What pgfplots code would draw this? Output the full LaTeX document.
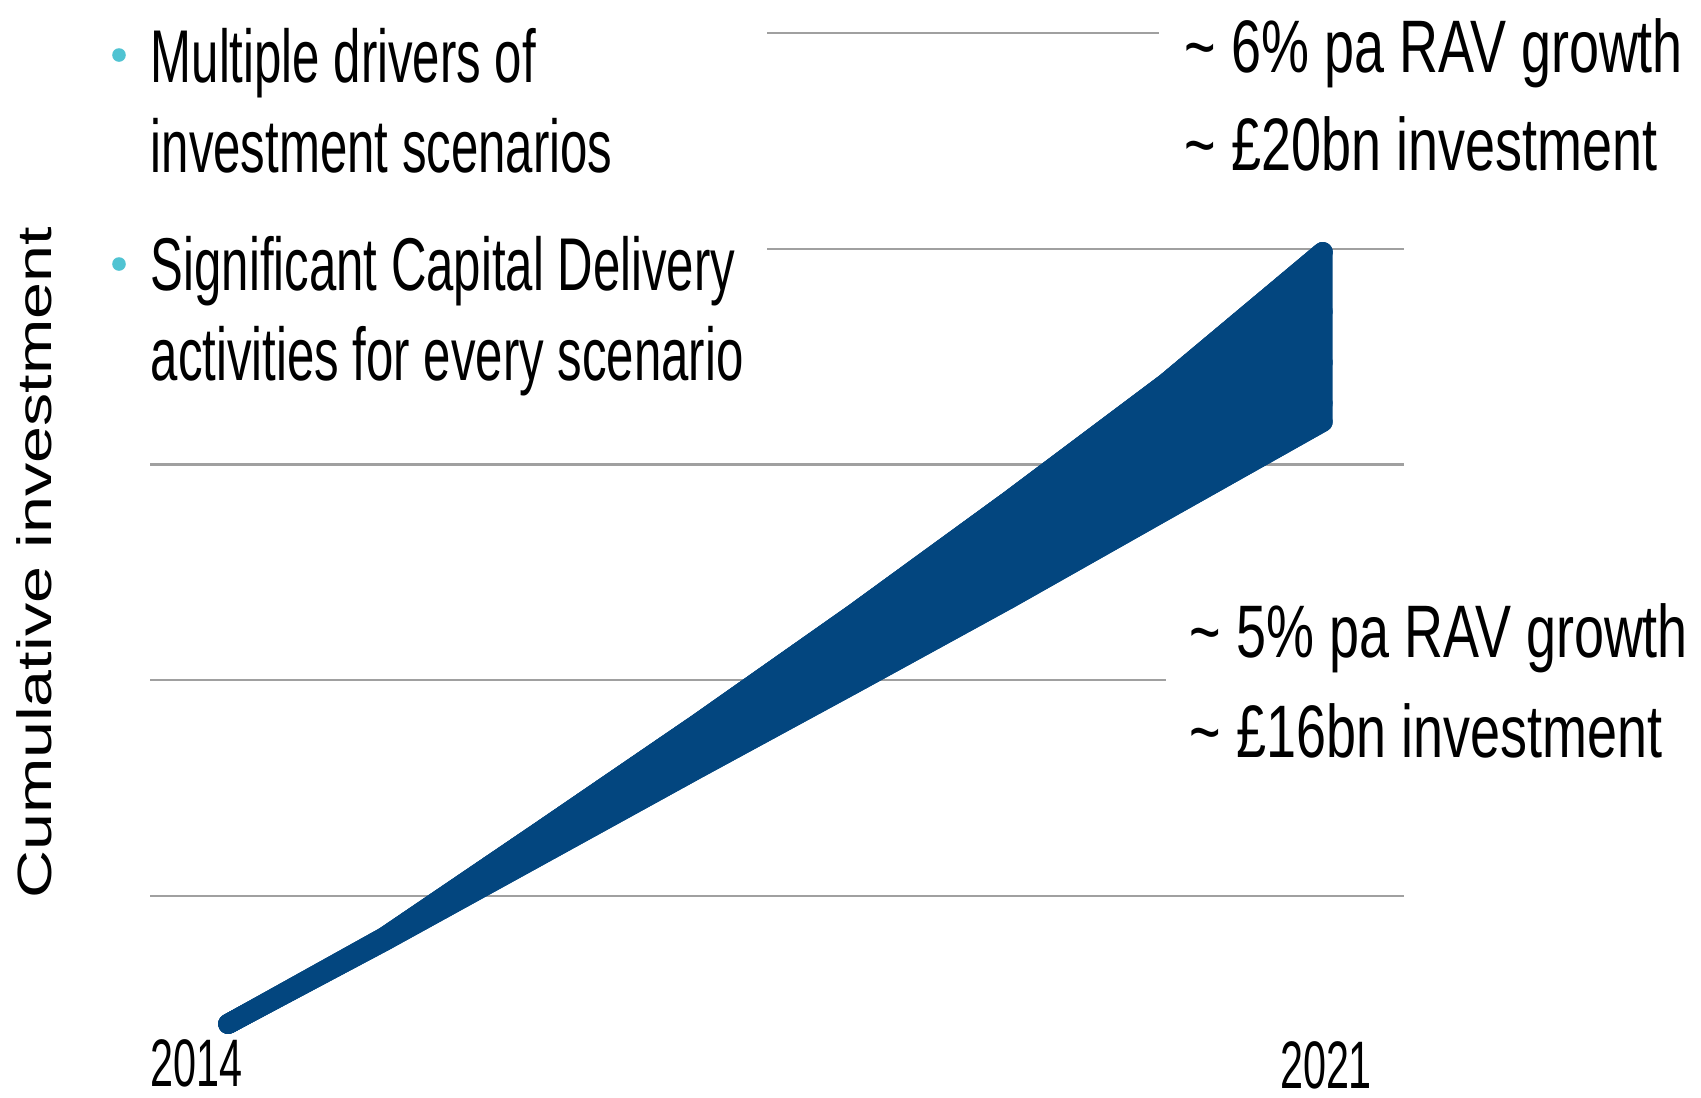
\documentclass[border=0pt]{standalone}
\usepackage{pgfplots}
\pgfplotsset{compat=1.18}
\usepackage{pgfplotstable}
\usepgfplotslibrary{fillbetween}
\usepackage{fontspec}
\setmainfont{Liberation Sans}
\newfontfamily\bfnt[FakeStretch=0.657]{Liberation Sans}
\newfontfamily\rfnt[FakeStretch=0.725]{Liberation Sans}
\newfontfamily\yfnt[FakeStretch=0.615]{Liberation Sans}
\definecolor{bandblue}{RGB}{3,70,127}
\definecolor{dotcol}{RGB}{80,195,210}
\definecolor{gridgray}{RGB}{160,160,160}

% cumulative investment (GBP bn) for several scenarios
\pgfplotstableread{
year upper s2 s3 s4 lower
2014 0 0 0 0 0
2015 2.25 2.21 2.18 2.16 2.15
2016 5.00 4.78 4.60 4.45 4.38
2017 7.77 7.36 7.02 6.74 6.61
2018 10.62 9.99 9.44 9.01 8.81
2019 13.57 12.68 11.92 11.31 11.03
2020 16.61 15.46 14.47 13.68 13.32
2021 20.00 18.46 17.14 16.08 15.60
}\scen

\begin{document}
\begin{tikzpicture}
\begin{axis}[
  scale only axis,
  width=313.5pt, height=248.11pt,
  xmin=2013.5, xmax=2021.52,
  ymin=-0.04, ymax=25.675,
  clip=false,
  axis line style={draw=none},
  tick style={draw=none},
  xtick=\empty,
  ytick={3.315,8.905,14.495,20.085,25.675},
  yticklabels={},
  ymajorgrids,
  major grid style={draw=gridgray, line width=0.6pt},
  every axis plot/.append style={line cap=round, line join=round},
]
\addplot[name path=U, draw=bandblue, line width=5pt] table[x=year, y=upper] {\scen};
\addplot[name path=L, draw=bandblue, line width=5pt] table[x=year, y=lower] {\scen};
\addplot[fill=bandblue, draw=bandblue, line width=5pt, line join=round, line cap=round] fill between[of=U and L];
\addplot[draw=bandblue, line width=5pt] table[x=year, y=s2] {\scen};
\addplot[draw=bandblue, line width=5pt] table[x=year, y=s3] {\scen};
\addplot[draw=bandblue, line width=5pt] table[x=year, y=s4] {\scen};
\addplot[draw=bandblue, line width=5pt] table[x=year, y=upper] {\scen};
\end{axis}
\begin{scope}[shift={(current axis.north west)}, xshift=-37.5pt, yshift=8.25pt, x=0.25pt, y=-0.25pt]
  \path (0,0) rectangle (1701,1097);
  \fill[white] (140,0) rectangle (767,430);
  \fill[white] (1159,0) rectangle (1701,215);
  \fill[white] (1166,580) rectangle (1701,790);
  % y label
  \node[rotate=90, anchor=center, inner sep=0] at (34,563)
    {\scalebox{1}[0.725]{\fontsize{16.6}{19}\selectfont Cumulative investment}};
  % bullets
  \fill[dotcol] (119,55) circle[radius=1.7pt];
  \fill[dotcol] (119,264) circle[radius=1.7pt];
  \begin{scope}[every node/.style={anchor=base west, inner sep=0, font=\bfnt\fontsize{18.7}{22}\selectfont}]
    \node at (150,82) {Multiple drivers of};
    \node at (150,172) {investment scenarios};
    \node at (150,290) {Significant Capital Delivery};
    \node at (150,380) {activities for every scenario};
  \end{scope}
  \begin{scope}[every node/.style={anchor=base west, inner sep=0, font=\rfnt\fontsize{18.6}{22}\selectfont}]
    \node at (1184,72) {\textasciitilde\ 6\% pa RAV growth};
    \node at (1184,170) {\textasciitilde\ £20bn investment};
    \node at (1189,657) {\textasciitilde\ 5\% pa RAV growth};
    \node at (1189,757) {\textasciitilde\ £16bn investment};
  \end{scope}
  \node[anchor=base west, inner sep=0, font=\yfnt\fontsize{16.8}{20}\selectfont] at (150,1086) {2014};
  \node[anchor=base, inner sep=0, font=\yfnt\fontsize{16.8}{20}\selectfont] at (1326,1088) {2021};
\end{scope}
\end{tikzpicture}
\end{document}
